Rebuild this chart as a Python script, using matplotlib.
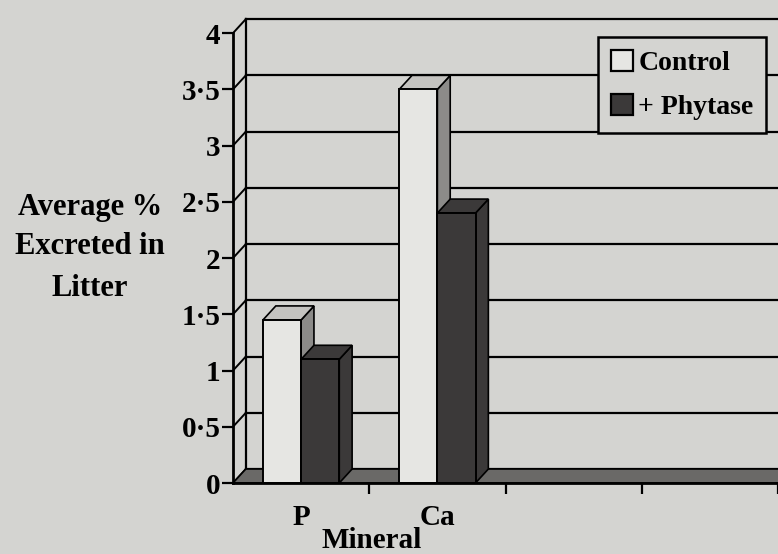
import matplotlib
matplotlib.use("Agg")
import matplotlib.pyplot as plt
from matplotlib.patches import Polygon, Patch
import numpy as np

# ---- data ----
categories = ["P", "Ca", "", ""]
control = [1.45, 3.5, 0, 0]
phytase = [1.1, 2.4, 0, 0]
series_names = ["Control", "+ Phytase"]
yticks = [0, 0.5, 1, 1.5, 2, 2.5, 3, 3.5, 4]
ytick_labels = ["0", "0·5", "1", "1·5", "2", "2·5", "3", "3·5", "4"]

BG = "#d4d4d1"
DARK = "#3b3939"
SIDE = "#8c8b89"
TOPC = "#c4c3c0"
FONT = "Liberation Serif"
FS = 21

W, H = 778, 554
fig = plt.figure(figsize=(W / 100, H / 100), dpi=100, facecolor=BG)
ax = fig.add_axes([233 / W, 1 - 483 / H, 1 - 233 / W, (483 - 5) / H])
ax.set_facecolor(BG)
ax.patch.set_alpha(0)

ymax_axis = 4
xmax = 545 / 138
ax.set_xlim(0, xmax)
ax.set_ylim(0, 4.25)

dx = 13 / 138      # depth offset in x (category units)
dy = 14 / 112.5    # depth offset in y (data units)

# back wall gridlines and left wall connectors
for v in yticks:
    ax.plot([dx, xmax + 1], [v + dy, v + dy], color="black", lw=1.6, zorder=1)
    ax.plot([0, dx], [v, v + dy], color="black", lw=1.4, zorder=1)
ax.plot([dx, dx], [dy, ymax_axis + dy], color="black", lw=1.6, zorder=1)
ax.plot([0, 0], [0, ymax_axis], color="black", lw=2.0, zorder=6, clip_on=False)

# floor
floor = Polygon([[0, 0], [xmax + 1, 0], [xmax + 1 + dx, dy], [dx, dy]],
                closed=True, facecolor="#6a6967", edgecolor="black", lw=1.2, zorder=2)
ax.add_patch(floor)

# bars
x = np.arange(len(categories)) + 0.5
bw = 0.28
offs = [-bw / 2, bw / 2]
for s, (vals, face) in enumerate([(control, "#e6e6e3"), (phytase, DARK)]):
    for xi, v in zip(x, vals):
        if v <= 0:
            continue
        left = xi + offs[s] - bw / 2
        right = left + bw
        side = Polygon([[right, 0], [right + dx, dy], [right + dx, v + dy], [right, v]],
                       closed=True, facecolor=SIDE if s == 0 else DARK,
                       edgecolor="black", lw=1.2, zorder=3 + s * 2)
        top = Polygon([[left, v], [left + dx, v + dy], [right + dx, v + dy], [right, v]],
                      closed=True, facecolor=TOPC if s == 0 else DARK,
                      edgecolor="black", lw=1.2, zorder=3 + s * 2)
        ax.add_patch(side)
        ax.add_patch(top)
    ax.bar(x + offs[s], vals, width=bw, color=face, edgecolor="black",
           linewidth=1.4, zorder=4 + s * 2)

# front x-axis line
ax.plot([0, xmax + 1], [0, 0], color="black", lw=2.0, zorder=8, clip_on=False)

for sp in ax.spines.values():
    sp.set_visible(False)

ax.set_yticks(yticks)
ax.set_yticklabels(ytick_labels, fontfamily=FONT, fontweight="bold", fontsize=FS)
ax.tick_params(axis="y", length=8, width=1.6, pad=1, colors="black")

ax.set_xticks(x)
ax.set_xticklabels(categories, fontfamily=FONT, fontweight="bold", fontsize=FS)
ax.tick_params(axis="x", length=0, pad=15)
ax.set_xticks(np.arange(1, len(categories) + 1), minor=True)
ax.tick_params(axis="x", which="minor", length=8, width=1.6, direction="out")

# axis labels
fig.text(372 / W, 1 - 541 / H, "Mineral", ha="center", va="center",
         fontfamily=FONT, fontweight="bold", fontsize=FS)
for txt, yp in [("Average %", 207), ("Excreted in", 247), ("Litter", 288)]:
    fig.text(90 / W, 1 - yp / H, txt, ha="center", va="center",
             fontfamily=FONT, fontweight="bold", fontsize=FS + 1)

# legend
handles = [Patch(facecolor="#e6e6e3", edgecolor="black", lw=1.6),
           Patch(facecolor=DARK, edgecolor="black", lw=1.6)]
leg = fig.legend(handles, series_names, loc="upper left",
                 bbox_to_anchor=(598 / W, 1 - 37 / H), bbox_transform=fig.transFigure,
                 prop={"family": FONT, "weight": "bold", "size": 20},
                 frameon=True, fancybox=False, framealpha=1, edgecolor="black",
                 facecolor=BG, handlelength=0.8, handleheight=0.8,
                 handletextpad=0.2, borderpad=0.45, labelspacing=0.65,
                 borderaxespad=0)
leg.get_frame().set_linewidth(1.8)
leg.set_zorder(20)

fig.savefig("out.png", dpi=100, facecolor=BG)
